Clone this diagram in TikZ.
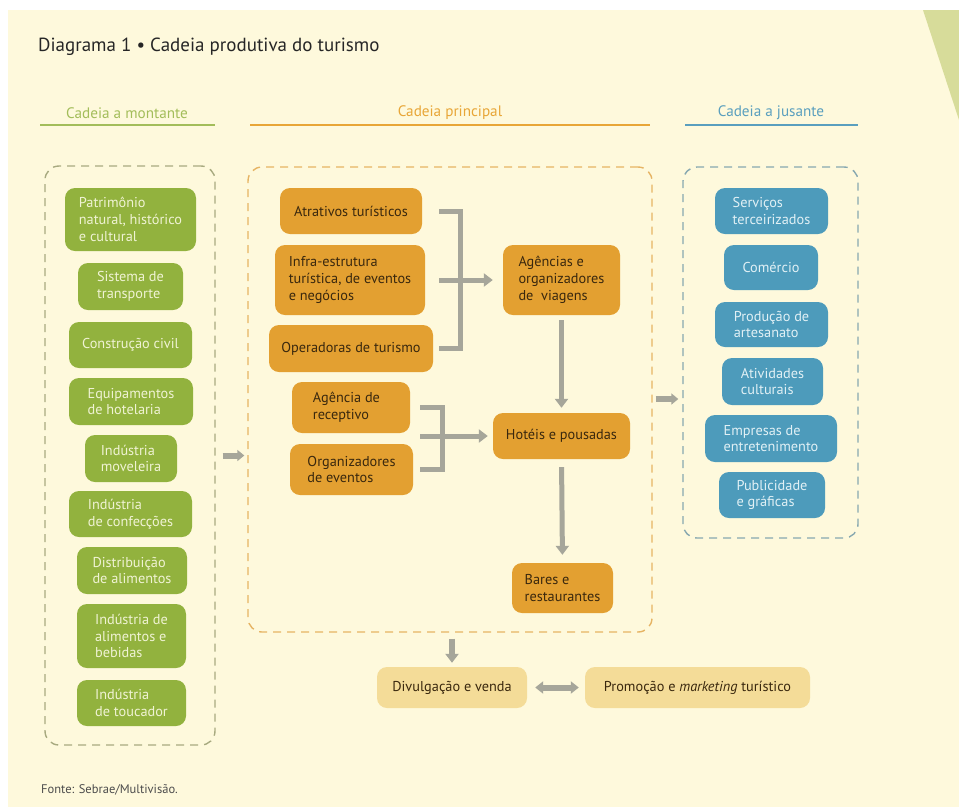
\documentclass[tikz,border=0pt]{standalone}
\usepackage{fontspec}
\setmainfont{PT Sans}
\usetikzlibrary{arrows.meta}
\definecolor{cream}{RGB}{254,249,220}
\definecolor{gfill}{RGB}{146,178,62}
\definecolor{ofill}{RGB}{227,160,49}
\definecolor{bfill}{RGB}{77,155,187}
\definecolor{pfill}{RGB}{244,220,152}
\definecolor{arrowgray}{RGB}{166,166,154}
\definecolor{ghead}{RGB}{163,189,90}
\definecolor{ohead}{RGB}{232,166,55}
\definecolor{bhead}{RGB}{90,159,190}
\definecolor{gdash}{RGB}{168,170,128}
\definecolor{odash}{RGB}{230,180,100}
\definecolor{bdash}{RGB}{135,168,176}
\definecolor{otext}{RGB}{58,40,14}
\definecolor{gtext}{RGB}{240,243,212}
\definecolor{btext}{RGB}{225,240,245}
\definecolor{tri}{RGB}{215,220,154}
\tikzset{
  boxbase/.style={rounded corners=10pt, inner sep=2pt, align=left,
    font=\fontsize{14.3}{16.8}\selectfont},
  gbox/.style={boxbase, fill=gfill, text=gtext},
  obox/.style={boxbase, fill=ofill, text=otext},
  bluebox/.style={boxbase, fill=bfill, text=btext},
  pbox/.style={boxbase, fill=pfill, text=otext},
  container/.style={draw, dashed, dash pattern=on 8pt off 6pt, line width=1.4pt, rounded corners=14pt},
  conn/.style={draw=arrowgray, line width=5pt},
  connarrow/.style={conn, -{Triangle[length=9pt,width=13pt]}},
  fatarrow/.style={draw=arrowgray, line width=6pt, -{Triangle[length=7pt,width=11pt]}},
  dblarrow/.style={draw=arrowgray, line width=6pt, {Triangle[length=8pt,width=12pt]}-{Triangle[length=8pt,width=12pt]}},
  header/.style={font=\fontsize{15.2}{17}\selectfont},
}
\begin{document}
\begin{tikzpicture}[x=1pt,y=-1pt]
\useasboundingbox (0,0) rectangle (959,807);
\fill[white] (0,0) rectangle (959,807);
\fill[cream] (8,10) rectangle (959,807);
\fill[tri] (923,10) -- (959,10) -- (959,120) -- cycle;

% title
\node[anchor=west, inner sep=0pt, font=\fontsize{19}{22}\selectfont, text=black!85] (title) at (38,47) {Diagrama 1 \textbullet{} Cadeia produtiva do turismo};

% headers
\node[header, text=ghead] (h1) at (127,113) {Cadeia a montante};
\node[header, text=ohead] (h2) at (450,113) {Cadeia principal};
\node[header, text=bhead] (h3) at (771,113) {Cadeia a jusante};
\draw[ghead, line width=1.5pt] (40,125) -- (215,125);
\draw[ohead, line width=1.5pt] (250,125) -- (650,125);
\draw[bhead, line width=1.5pt] (685,125) -- (858,125);

% containers
\node[container, draw=gdash, minimum width=170pt, minimum height=579pt] (L) at (130,455.5) {};
\node[container, draw=odash, minimum width=404pt, minimum height=465pt] (M) at (450,399.5) {};
\node[container, draw=bdash, minimum width=175pt, minimum height=371pt] (R) at (770.5,352.5) {};

% green boxes
\node[gbox, minimum width=131pt, minimum height=63pt] (g1) at (130.5,219.5) {Patrimônio\\natural, histórico\\e cultural};
\node[gbox, minimum width=105pt, minimum height=47pt] (g2) at (130.5,286.5) {Sistema de\\transporte};
\node[gbox, minimum width=123pt, minimum height=46pt] (g3) at (130.5,345) {Construção civil};
\node[gbox, minimum width=124pt, minimum height=47pt] (g4) at (131,401.5) {Equipamentos\\de hotelaria};
\node[gbox, minimum width=92pt, minimum height=47pt] (g5) at (131,458.5) {Indústria\\moveleira};
\node[gbox, minimum width=123pt, minimum height=46pt] (g6) at (130.5,514) {Indústria\\de confecções};
\node[gbox, minimum width=110pt, minimum height=47pt] (g7) at (132,570.5) {Distribuição\\de alimentos};
\node[gbox, minimum width=109pt, minimum height=64pt] (g8) at (131.5,636) {Indústria de\\alimentos e\\bebidas};
\node[gbox, minimum width=109pt, minimum height=46pt] (g9) at (131.5,703) {Indústria\\de toucador};

% orange boxes
\node[obox, minimum width=142pt, minimum height=46pt] (o1) at (351,211) {Atrativos turísticos};
\node[obox, minimum width=150pt, minimum height=70pt] (o2) at (350,280) {Infra-estrutura\\turística, de eventos\\e negócios};
\node[obox, minimum width=164pt, minimum height=47pt] (o3) at (351,348.5) {Operadoras de turismo};
\node[obox, minimum width=117pt, minimum height=70pt] (o4) at (561.5,280) {Agências e\\organizadores\\de\ \ viagens};
\node[obox, minimum width=118pt, minimum height=51pt] (o5) at (351,407.5) {Agência de\\receptivo\hspace*{20pt}};
\node[obox, minimum width=123pt, minimum height=51pt] (o6) at (351.5,469.5) {Organizadores\\de eventos};
\node[obox, minimum width=137pt, minimum height=46pt] (o7) at (561.5,436) {Hotéis e pousadas};
\node[obox, minimum width=101pt, minimum height=50pt] (o8) at (562.5,588) {Bares e\\restaurantes};

% blue boxes
\node[bluebox, minimum width=113pt, minimum height=46pt] (b1) at (771.5,211) {Serviços\\terceirizados};
\node[bluebox, minimum width=94pt, minimum height=45pt] (b2) at (771,267.5) {Comércio};
\node[bluebox, minimum width=113pt, minimum height=45pt] (b3) at (771.5,324.5) {Produção de\\artesanato};
\node[bluebox, minimum width=101pt, minimum height=47pt] (b4) at (772.5,381.5) {Atividades\\culturais};
\node[bluebox, minimum width=132pt, minimum height=47pt] (b5) at (771,438.5) {Empresas de\\entretenimento};
\node[bluebox, minimum width=106pt, minimum height=46pt] (b6) at (772,495) {Publicidade\\e gráficas};

% bottom boxes
\node[pbox, minimum width=150pt, minimum height=41pt] (p1) at (452,687.5) {Divulgação e venda};
\node[pbox, minimum width=225pt, minimum height=41pt] (p2) at (697.5,687.5) {Promoção e \textit{marketing} turístico};

% footer
\node[anchor=west, inner sep=0pt, font=\fontsize{12.5}{14}\selectfont, text=black!70] (src) at (41,790) {Fonte: Sebrae/Multivisão.};

% bracket 1
\coordinate (s1) at (439,0);
\coordinate (v1) at (460,0);
\draw[conn] (o1.east -| s1) -- (o1.east -| v1) -- (o3.east -| v1) -- (o3.east -| s1);
\draw[connarrow, shorten >=10pt] (o4.west -| s1) -- (o4.west);

% bracket 2
\coordinate (s2) at (420,0);
\coordinate (v2) at (442,0);
\draw[conn] (o5.east -| s2) -- (o5.east -| v2) -- (o6.east -| v2) -- (o6.east -| s2);
\draw[connarrow, shorten >=5pt] (o7.west -| s2) -- (o7.west);

% vertical arrows
\draw[connarrow, shorten <=5pt, shorten >=5pt] (o4.south) -- (o7.north);
\draw[connarrow, shorten <=8pt, shorten >=8pt] (o7.south) -- (o8.north);

% chain arrows
\draw[fatarrow] ([xshift=7pt]L.east) -- ([xshift=-3pt]L.east -| M.west);
\draw[fatarrow] ([xshift=3pt]M.east |- 0,399) -- ([xshift=-4pt]R.west |- 0,399);
\draw[connarrow, line width=6pt, shorten <=6pt, shorten >=4pt] (M.south -| p1.north) -- (p1.north);
\draw[dblarrow, shorten <=8pt, shorten >=6pt] (p1.east) -- (p2.west);
\end{tikzpicture}
\end{document}
